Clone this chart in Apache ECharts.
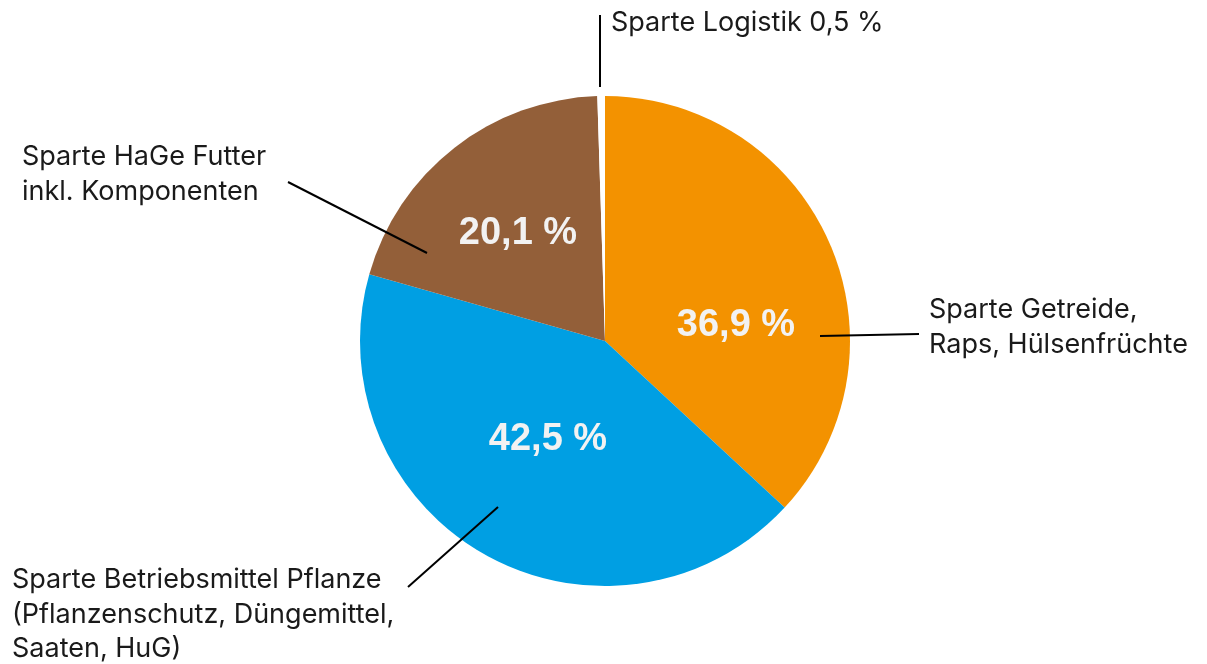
<!DOCTYPE html>
<html>
<head>
<meta charset="utf-8">
<script src="https://cdn.jsdelivr.net/npm/echarts@6/dist/echarts.min.js"></script>
<style>
html,body{margin:0;padding:0;background:#fff;}
#chart{width:1207px;height:664px;}
</style>
</head>
<body>
<div id="chart"></div>
<script>
// ---- Data ----
const categories = [
  'Sparte Getreide,\nRaps, Hülsenfrüchte',
  'Sparte Betriebsmittel Pflanze\n(Pflanzenschutz, Düngemittel,\nSaaten, HuG)',
  'Sparte HaGe Futter\ninkl. Komponenten',
  'Sparte Logistik'
];
const values = [36.9, 42.5, 20.1, 0.5];
const showInnerPercent = [true, true, true, false];
const showPercentInName = [false, false, false, true];
const colors = ['#F39200', '#009FE3', '#935F39', '#FFFFFF'];

// ---- Layout (label placement, not data) ----
const innerLabelPos = [[736, 326], [548, 440], [518, 234], [0, 0]];
const outerLabelPos = [[929, 293], [12, 563], [22, 140], [611, 6]];
const leaderLines = [
  [[820, 336], [919, 334]],
  [[408, 587], [498, 507]],
  [[288, 182], [427, 253]],
  [[600, 87], [600, 15]]
];

const fmt = v => v.toFixed(1).replace('.', ',') + ' %';
const pieData = categories.map((c, i) => ({ name: c, value: values[i], itemStyle: { color: colors[i] } }));

const chart = echarts.init(document.getElementById('chart'), null, { renderer: 'canvas' });
chart.setOption({
  backgroundColor: '#ffffff',
  animation: false,
  series: [
    {
      type: 'pie',
      center: [605, 341],
      radius: 245,
      startAngle: 90,
      clockwise: true,
      avoidLabelOverlap: false,
      silent: true,
      itemStyle: { borderWidth: 0 },
      data: pieData,
      label: {
        show: true,
        position: 'inside',
        formatter: p => showInnerPercent[p.dataIndex] ? fmt(p.value) : '',
        color: '#F2F2F2',
        fontFamily: 'Liberation Sans',
        fontWeight: 'bold',
        fontSize: 38
      },
      labelLine: { show: false },
      labelLayout: p => ({
        x: innerLabelPos[p.dataIndex][0],
        y: innerLabelPos[p.dataIndex][1],
        align: 'center',
        verticalAlign: 'middle'
      })
    },
    {
      type: 'pie',
      center: [605, 341],
      radius: 245,
      startAngle: 90,
      clockwise: true,
      avoidLabelOverlap: false,
      silent: true,
      z: 3,
      itemStyle: { color: 'rgba(0,0,0,0)', borderWidth: 0 },
      data: categories.map((c, i) => ({ name: c, value: values[i] })),
      label: {
        show: true,
        position: 'outside',
        formatter: p => showPercentInName[p.dataIndex] ? p.name + ' ' + fmt(p.value) : p.name,
        color: '#1a1a1a',
        fontFamily: 'Inter',
        fontSize: 27,
        lineHeight: 34.5,
        align: 'left'
      },
      labelLine: { show: true, lineStyle: { color: '#000000', width: 2 } },
      labelLayout: p => ({
        x: outerLabelPos[p.dataIndex][0],
        y: outerLabelPos[p.dataIndex][1],
        align: 'left',
        verticalAlign: 'top',
        labelLinePoints: leaderLines[p.dataIndex]
      })
    }
  ]
});
</script>
</body>
</html>
